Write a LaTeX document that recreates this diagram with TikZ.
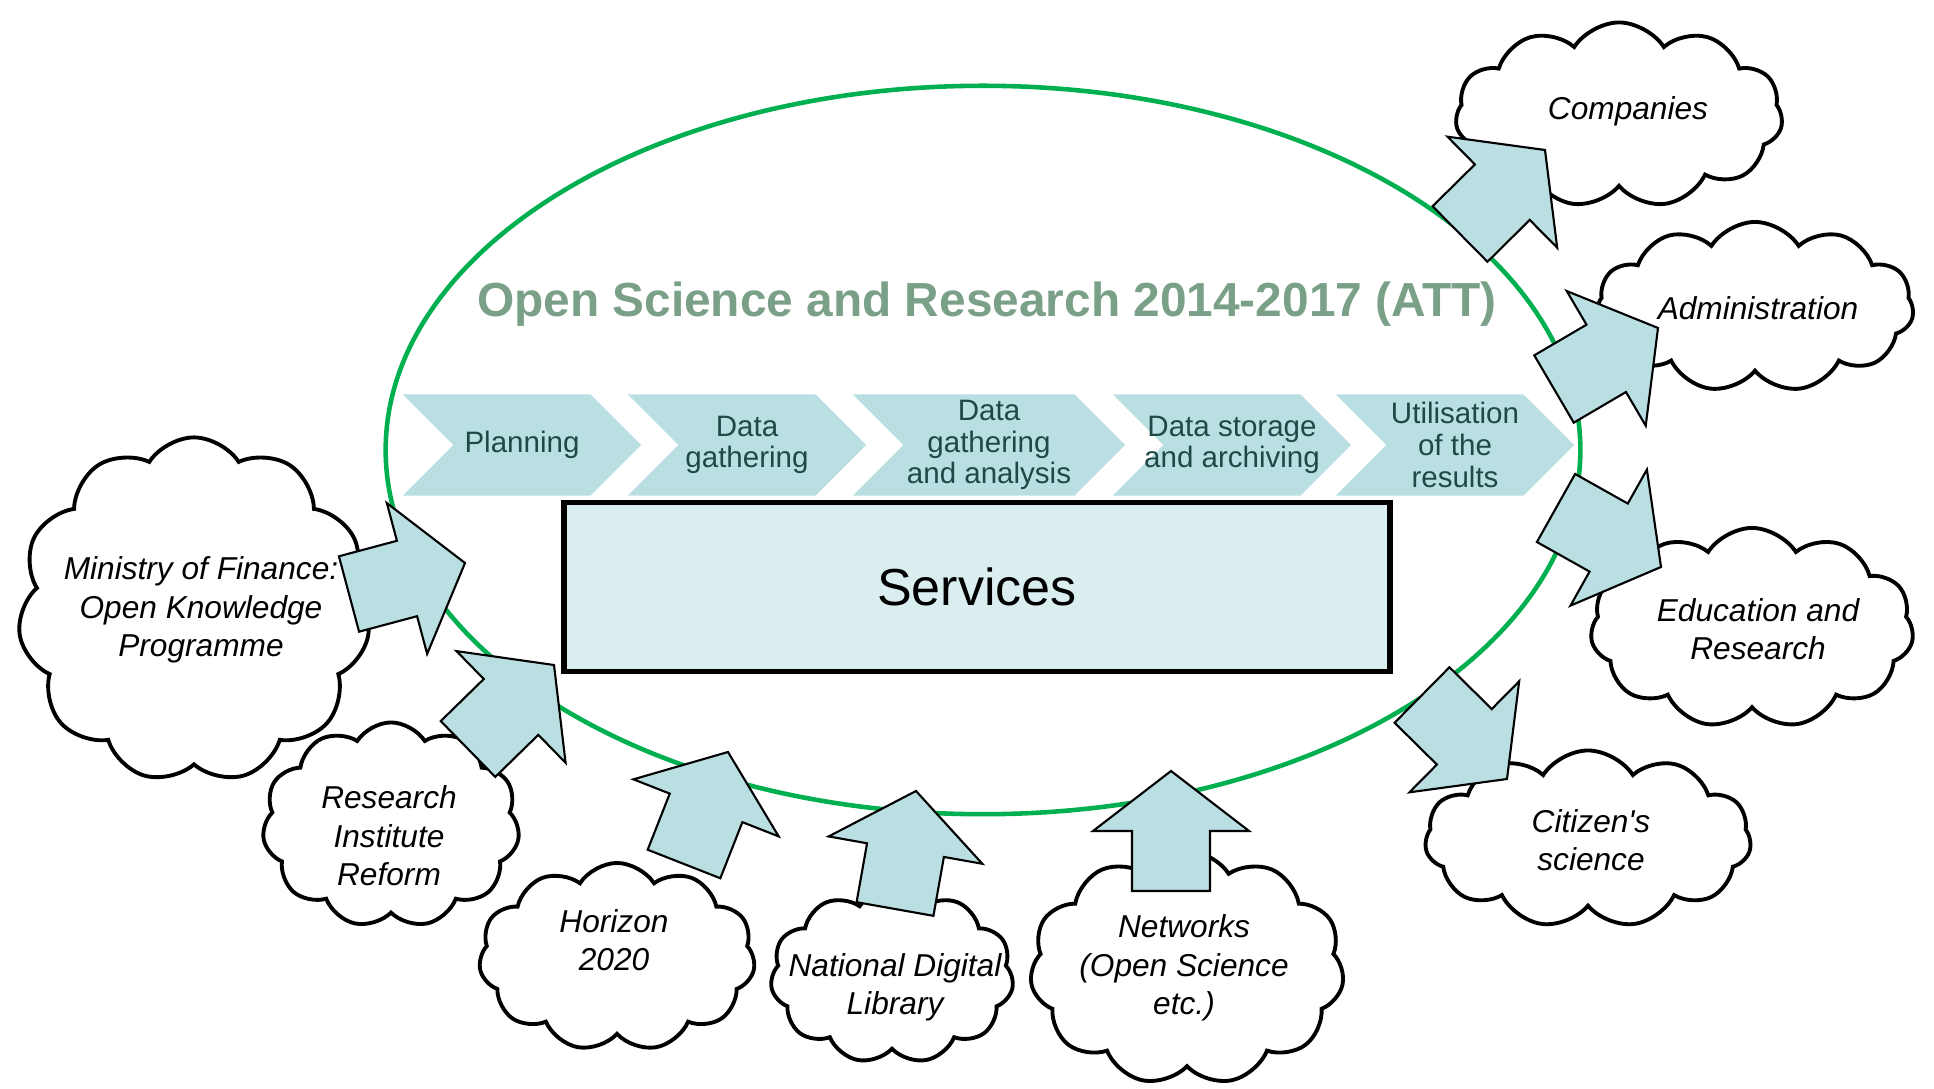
\documentclass[tikz,border=0pt]{standalone}
\usepackage{fontspec}
\setmainfont{Liberation Sans}
\usepackage{tikz}
\usetikzlibrary{shapes.geometric,shapes.symbols,calc}

\definecolor{attgreen}{RGB}{0,176,80}
\definecolor{titlegreen}{RGB}{122,160,136}
\definecolor{chevfill}{RGB}{185,223,226}
\definecolor{chevtext}{RGB}{31,73,73}
\definecolor{boxfill}{RGB}{218,237,239}

% block arrow from tail coordinate #1 to tip coordinate #2
\newcommand{\blockarrow}[2]{%
  \coordinate (h) at ($(#2)!0.6cm!(#1)$);
  \draw[big arrow] ($(#1)!0.39cm!90:(#2)$) -- ($(h)!0.39cm!90:(#2)$)
    -- ($(h)!0.78cm!90:(#2)$) -- (#2) -- ($(h)!0.78cm!-90:(#2)$)
    -- ($(h)!0.39cm!-90:(#2)$) -- ($(#1)!0.39cm!-90:(#2)$) -- cycle;}

\begin{document}
\begin{tikzpicture}[x=0.01cm, y=-0.01cm,
  chev/.style={signal, signal to=east, signal from=west, fill=chevfill,
    minimum height=1.01cm, minimum width=2.38cm, inner xsep=-0.3cm, inner ysep=0pt,
    text=chevtext, align=center, font=\fontsize{8.4}{9}\selectfont},
  cloudy/.style={cloud, draw, fill=white, line width=1.1pt, cloud puffs=11,
    cloud puff arc=115, inner sep=0pt},
  ctext/.style={align=center, inner sep=0pt, font=\itshape\fontsize{9}{10.9}\selectfont},
  big arrow/.style={draw=black, fill=chevfill, line width=0.6pt, line join=miter}]
\useasboundingbox (0,0) rectangle (1934,1089);

\node[ellipse, draw=attgreen, line width=1.3pt, minimum width=11.94cm,
  minimum height=7.28cm, inner sep=0pt] (att) at (983,450) {};
\node[text=titlegreen, font=\bfseries\fontsize{13.6}{16}\selectfont] (title) at (987,304)
  {Open Science and Research 2014-2017 (ATT)};

\node[chev] (plan) at (522,445) {Planning};
\node[chev] (gath) at (747,445) {Data\\gathering};
\node[chev, minimum width=2.72cm] (anal) at (989,445) {Data\\gathering\\and analysis};
\node[chev] (stor) at (1232,445) {Data storage\\and archiving};
\node[chev] (util) at (1455,445) {Utilisation\\of the\\results};

\node[draw, line width=1.6pt, fill=boxfill, minimum width=8.25cm, minimum height=1.69cm,
  font=\fontsize{14.8}{18}\selectfont] (serv) at (977,587) {Services};

% clouds
\node[cloudy, minimum width=3.52cm, minimum height=3.45cm] (fin) at (194,610) {};
\node[ctext] (fin-txt) at (201,610) {Ministry of Finance:\\Open Knowledge\\Programme};
\node[cloudy, minimum width=2.57cm, minimum height=2.05cm] (inst) at (391,825) {};
\node[ctext] (inst-txt) at (389,836) {Research\\Institute\\Reform};
\node[cloudy, minimum width=2.76cm, minimum height=1.88cm] (hor) at (617,957) {};
\node[ctext] (hor-txt) at (614,940) {Horizon\\2020};
\node[cloudy, minimum width=2.43cm, minimum height=1.75cm] (ndl) at (892,976) {};
\node[ctext] (ndl-txt) at (895,987) {National Digital\\Library};
\node[cloudy, minimum width=3.14cm, minimum height=2.34cm] (net) at (1187,968) {};
\node[ctext] (net-txt) at (1184,968) {Networks\\(Open Science\\etc.)};
\node[cloudy, minimum width=3.26cm, minimum height=1.77cm] (cit) at (1588,839) {};
\node[ctext] (cit-txt) at (1591,840) {Citizen\textquotesingle s\\science};
\node[cloudy, minimum width=3.23cm, minimum height=2.0cm] (edu) at (1752,628) {};
\node[ctext] (edu-txt) at (1758,629) {Education and\\Research};
\node[cloudy, minimum width=3.17cm, minimum height=1.7cm] (adm) at (1755,307) {};
\node[ctext] (adm-txt) at (1758,308) {Administration};
\node[cloudy, minimum width=3.27cm, minimum height=1.85cm] (comp) at (1619,115) {};
\node[ctext] (comp-txt) at (1628,111) {Companies};

\coordinate (fin-t) at (349,594);   \coordinate (fin-h) at (465,563);
\coordinate (inst-t) at (468,749);  \coordinate (inst-h) at (554,665);
\coordinate (hor-t) at (684,864);   \coordinate (hor-h) at (728,752);
\coordinate (ndl-t) at (895,909);   \coordinate (ndl-h) at (916,791);
\coordinate (net-t) at (1171,891);  \coordinate (net-h) at (1171,771);
\coordinate (comp-t) at (1460,234); \coordinate (comp-h) at (1545,150);
\coordinate (adm-t) at (1554,389);  \coordinate (adm-h) at (1658,328);
\coordinate (edu-t) at (1556,508);  \coordinate (edu-h) at (1661,567);
\coordinate (cit-t) at (1422,695);  \coordinate (cit-h) at (1507,779);

\blockarrow{fin-t}{fin-h}
\blockarrow{inst-t}{inst-h}
\blockarrow{hor-t}{hor-h}
\blockarrow{ndl-t}{ndl-h}
\blockarrow{net-t}{net-h}
\blockarrow{comp-t}{comp-h}
\blockarrow{adm-t}{adm-h}
\blockarrow{edu-t}{edu-h}
\blockarrow{cit-t}{cit-h}
\end{tikzpicture}
\end{document}
